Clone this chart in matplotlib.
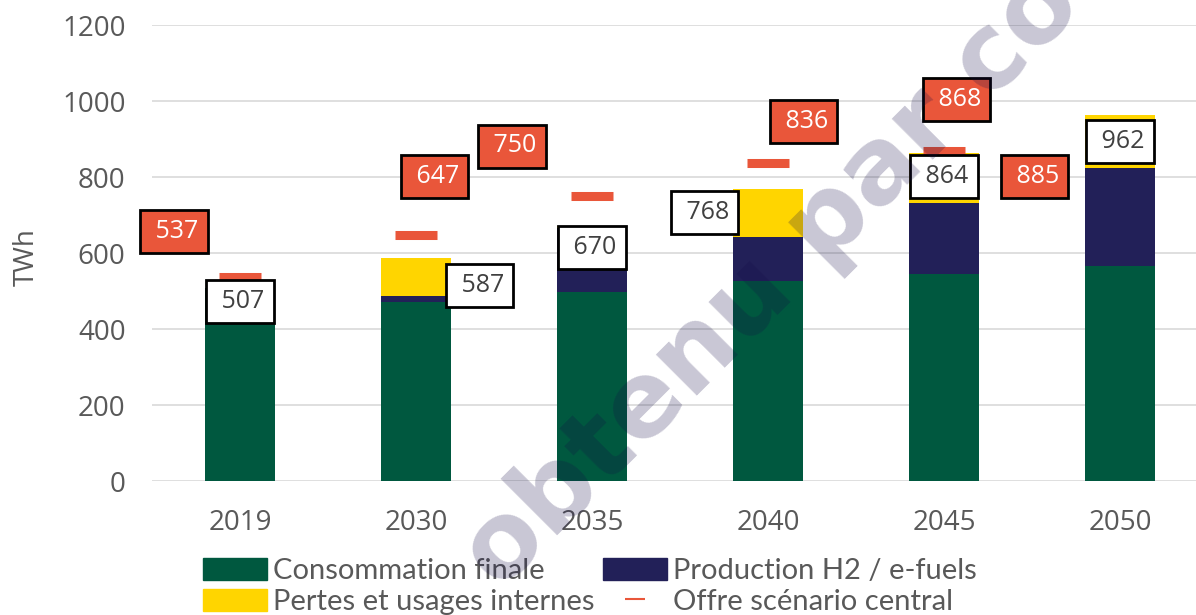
import matplotlib
matplotlib.use("Agg")
import matplotlib.pyplot as plt
from matplotlib.lines import Line2D
from matplotlib.patches import Patch
import numpy as np

# Données (TWh)
annees = ['2019', '2030', '2035', '2040', '2045', '2050']
conso_finale = [507, 471, 497, 526, 546, 566]
production_h2 = [0, 16, 170, 116, 186, 259]
pertes = [0, 100, 3, 126, 132, 137]
offre_central = [537, 647, 750, 836, 868, 885]

# Couleurs
vert = '#00583F'
marine = '#222058'
jaune = '#FFD500'
rouge = '#E9563A'
gris_txt = '#595959'

# Décalage des étiquettes (pixels)
decal_total = [(0, -13), (63.5, -28), (0, -21), (-63.5, -23), (0, -24), (0, -26.5)]
decal_offre = [(-66, 45), (18.5, 59), (-80, 50), (35.5, 42), (12.5, 52), (-85.5, -32)]

plt.rcParams['font.family'] = ['Open Sans', 'DejaVu Sans']

fig = plt.figure(figsize=(11.96, 6.15), dpi=100)
ax = fig.add_axes([152 / 1196, 134 / 615, 1056 / 1196, 456 / 615])

x = np.arange(len(annees))
conso = np.array(conso_finale)
h2 = np.array(production_h2)
pe = np.array(pertes)
total = conso + h2 + pe

ax.bar(x, conso, width=0.4, color=vert, zorder=2)
ax.bar(x, h2, width=0.4, bottom=conso, color=marine, zorder=2)
ax.bar(x, pe, width=0.4, bottom=conso + h2, color=jaune, zorder=2)
ax.plot(x, offre_central, ls='none', marker='_', ms=30, mew=6.5, color=rouge, zorder=3)

# Étiquettes des totaux
for i, v in enumerate(total):
    ax.annotate(' ' + str(v), xy=(i, v), xytext=decal_total[i], textcoords='offset pixels',
                ha='center', va='center', fontsize=18, color='#404040', zorder=5,
                bbox=dict(boxstyle='square,pad=0.36', fc='white', ec='black', lw=2))

# Étiquettes de l'offre
for i, v in enumerate(offre_central):
    ax.annotate(' ' + str(v), xy=(i, v), xytext=decal_offre[i], textcoords='offset pixels',
                ha='center', va='center', fontsize=18, color='white', zorder=5,
                bbox=dict(boxstyle='square,pad=0.36', fc=rouge, ec='black', lw=2))

ax.set_xlim(-0.5, 5.5)
ax.set_ylim(0, 1200)
ax.set_yticks(np.arange(0, 1201, 200))
ax.set_xticks(x)
ax.set_xticklabels(annees)
ax.tick_params(axis='both', length=0, labelsize=20, labelcolor=gris_txt)
ax.tick_params(axis='y', pad=19)
ax.tick_params(axis='x', pad=20)
ax.grid(axis='y', color='#D9D9D9', lw=1.2, zorder=0)
ax.set_axisbelow(True)
for s in ax.spines.values():
    s.set_visible(False)

ax.set_ylabel('TWh', fontsize=20, color=gris_txt)
ax.yaxis.set_label_coords(-0.105, 0.49)

handles = [
    Patch(color=vert, label='Consommation finale'),
    Patch(color=jaune, label='Pertes et usages internes'),
    Patch(color=marine, label='Production H2 / e-fuels'),
    Line2D([], [], ls='none', marker='_', ms=15, mew=1.5, color=rouge, label='Offre scénario central'),
]
leg = fig.legend(handles=handles, loc='upper left', bbox_to_anchor=(203 / 1196, 1 - 558 / 615),
                 ncol=2, frameon=False, borderpad=0, borderaxespad=0,
                 handlelength=2.2, handleheight=0.8, handletextpad=0.2,
                 columnspacing=0.3, labelspacing=0.15,
                 prop={'family': 'Lato', 'size': 21})
for t in leg.get_texts():
    t.set_color(gris_txt)

# Filigrane
fig.text(772 / 1196, 1 - 280 / 615, 'obtenu par co', rotation=45, ha='center', va='center',
         fontsize=76, fontweight='bold', family='DejaVu Sans', color='#140C47', alpha=0.23,
         zorder=10)

fig.savefig('out.png', dpi=100)
